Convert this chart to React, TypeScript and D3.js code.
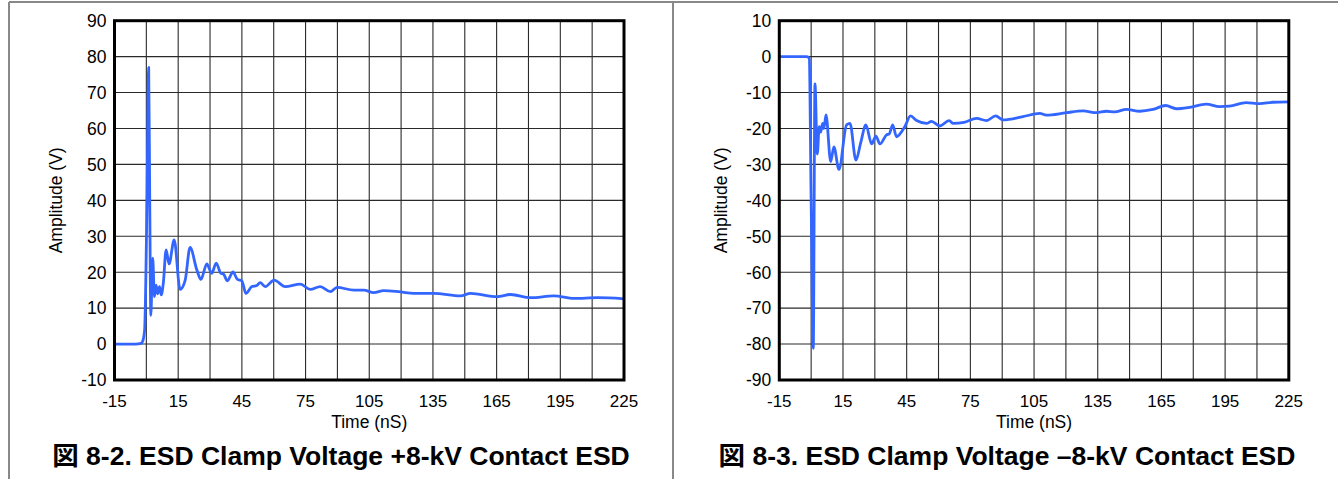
import React from "react";
import * as d3 from "d3";

// Fig 8-2: +8 kV contact ESD (time in ns, amplitude in V)
const posTime = [
  -15, -5, -2.5, -1.6, -0.8, 0.3, 1.1, 1.6, 2.1, 3.0, 3.8, 4.6, 5.3, 6.2, 7.0, 8.0, 9.3, 10.7,
  13.1, 15.9, 18.3, 20.6, 23.8, 25.7, 28.5, 30.8, 32.9, 35.1, 36.3, 38.2, 40.8, 42.9, 45.0, 46.9,
  49.7, 52.0, 53.6, 56.0, 60.2, 65.4, 72.5, 77.2, 81.9, 86.7, 89.8, 97.7, 102.4, 107.1, 111.8,
  119.7, 126.0, 135.4, 148, 152.7, 165.3, 171.6, 181, 192, 201.4, 212.5, 225,
];
const posVolt = [
  0, 0, 0.2, 1, 4, 40, 77, 40, 8, 23.9, 13.2, 16.4, 14, 16, 13.7, 17, 26.2, 22.3,
  29, 15.2, 17.8, 26.9, 20.6, 18, 22.3, 19.7, 22.5, 19.7, 19.5, 17.6, 20.1, 18, 17.6, 14.1,
  16, 16.3, 17.1, 16, 17.8, 16, 16.7, 15.2, 16, 14.6, 15.8, 15, 15, 14.3, 14.9,
  14.5, 14.1, 14.1, 13.4, 14.1, 13.2, 13.8, 12.9, 13.4, 12.7, 12.9, 12.6,
];

// Fig 8-3: -8 kV contact ESD
const negTime = [
  -15, -5, -2, -0.9, 0, 1.0, 1.8, 2.9, 3.8, 4.5, 5.4, 6.0, 7.0, 9.2, 10.7, 13.1, 16.7, 18.3,
  21.1, 23.3, 25.8, 28.5, 30.5, 32.4, 35.5, 36.8, 38.4, 40.2, 44.1, 46.8, 49.7, 54.4, 56.7,
  60.6, 65, 66.9, 72, 77.9, 82.6, 86.9, 90.4, 99.8, 107.7, 110.8, 120.2, 128.1, 134.4, 139,
  143, 148.5, 154.8, 161, 167, 172, 178.3, 186.1, 192.4, 197, 204.9, 211.2, 217.5, 225,
];
const negVolt = [
  0, 0, 0, -0.5, -40, -81.2, -7.6, -27.1, -19.5, -21, -18.6, -20, -16.2, -29.2, -25.1, -31.4, -19, -18.6,
  -28.8, -24.1, -19, -24.3, -22.1, -24.3, -21.8, -21.5, -19, -22.3, -19.5, -16.5, -17.8, -18.6, -18,
  -19.3, -17.8, -18.6, -18.3, -17.2, -17.8, -16.5, -17.6, -16.7, -15.8, -16.3, -15.6, -15.1, -15.6, -15.2,
  -15.4, -14.7, -15.2, -14.7, -13.6, -14.5, -14.1, -13.2, -13.9, -13.8, -12.8, -13.1, -12.7, -12.6,
];

const timeTicks = [-15, 15, 45, 75, 105, 135, 165, 195, 225];
const posTicks = [90, 80, 70, 60, 50, 40, 30, 20, 10, 0, -10];
const negTicks = [10, 0, -10, -20, -30, -40, -50, -60, -70, -80, -90];

const FONT = "'Liberation Sans', Arial, Helvetica, sans-serif";
const CAPFONT = "'Liberation Sans', Arial, 'Noto Sans CJK JP', sans-serif";

function Panel({ left, time, volt, yDomain, yTicks, caption, capX }) {
  const x = d3.scaleLinear().domain([-15, 225]).range([left, left + 509.5]);
  const y = d3.scaleLinear().domain(yDomain).range([380, 20.7]);
  const line = d3
    .line()
    .x((d) => x(d[0]))
    .y((d) => y(d[1]))
    .curve(d3.curveMonotoneX);
  const pts = time.map((t, i) => [t, volt[i]]);
  const vGrid = d3.range(-15, 226, 15);
  const hGrid = d3.range(yDomain[0], yDomain[1] + 1, 10);
  const [x0, x1] = x.range();
  const [y1, y0] = y.range();

  return (
    <g>
      {vGrid.map((t) => (
        <line key={"v" + t} x1={x(t)} x2={x(t)} y1={y0} y2={y1} stroke="#2a2a2a" strokeWidth={1.1} />
      ))}
      {hGrid.map((v) => (
        <line key={"h" + v} x1={x0} x2={x1} y1={y(v)} y2={y(v)} stroke="#2a2a2a" strokeWidth={1.1} />
      ))}
      <path d={line(pts)} fill="none" stroke="#3366ff" strokeWidth={2.8} strokeLinejoin="round" />
      <rect x={x0} y={y0} width={x1 - x0} height={y1 - y0} fill="none" stroke="#000" strokeWidth={3} />
      {yTicks.map((v) => (
        <text key={"y" + v} x={x0 - 8} y={y(v)} dy="0.36em" textAnchor="end" fontSize={17.5} fontFamily={FONT}>
          {v}
        </text>
      ))}
      {timeTicks.map((t) => (
        <text key={"x" + t} x={x(t)} y={407} textAnchor="middle" fontSize={17} fontFamily={FONT}>
          {t}
        </text>
      ))}
      <text x={(x0 + x1) / 2} y={428} textAnchor="middle" fontSize={17.5} fontFamily={FONT}>
        Time (nS)
      </text>
      <text
        transform={`translate(${x0 - 59},${(y0 + y1) / 2}) rotate(-90)`}
        dy="0.36em"
        textAnchor="middle"
        fontSize={17.5}
        fontFamily={FONT}
      >
        Amplitude (V)
      </text>
      <text x={capX} y={465} textAnchor="middle" fontSize={26.5} fontWeight="bold" fontFamily={CAPFONT}>
        {caption}
      </text>
    </g>
  );
}

export default function App() {
  return (
    <svg
      width={1338}
      height={479}
      style={{ position: "absolute", left: 0, top: 0, background: "#fff" }}
    >
      <line x1={9} x2={1338} y1={2} y2={2} stroke="#888" strokeWidth={2} />
      <line x1={9} x2={9} y1={2} y2={479} stroke="#888" strokeWidth={2} />
      <line x1={673} x2={673} y1={2} y2={479} stroke="#888" strokeWidth={2} />
      <Panel
        left={114.5}
        time={posTime}
        volt={posVolt}
        yDomain={[-10, 90]}
        yTicks={posTicks}
        caption="図 8-2. ESD Clamp Voltage +8-kV Contact ESD"
        capX={341}
      />
      <Panel
        left={779.3}
        time={negTime}
        volt={negVolt}
        yDomain={[-90, 10]}
        yTicks={negTicks}
        caption="図 8-3. ESD Clamp Voltage –8-kV Contact ESD"
        capX={1007}
      />
    </svg>
  );
}
